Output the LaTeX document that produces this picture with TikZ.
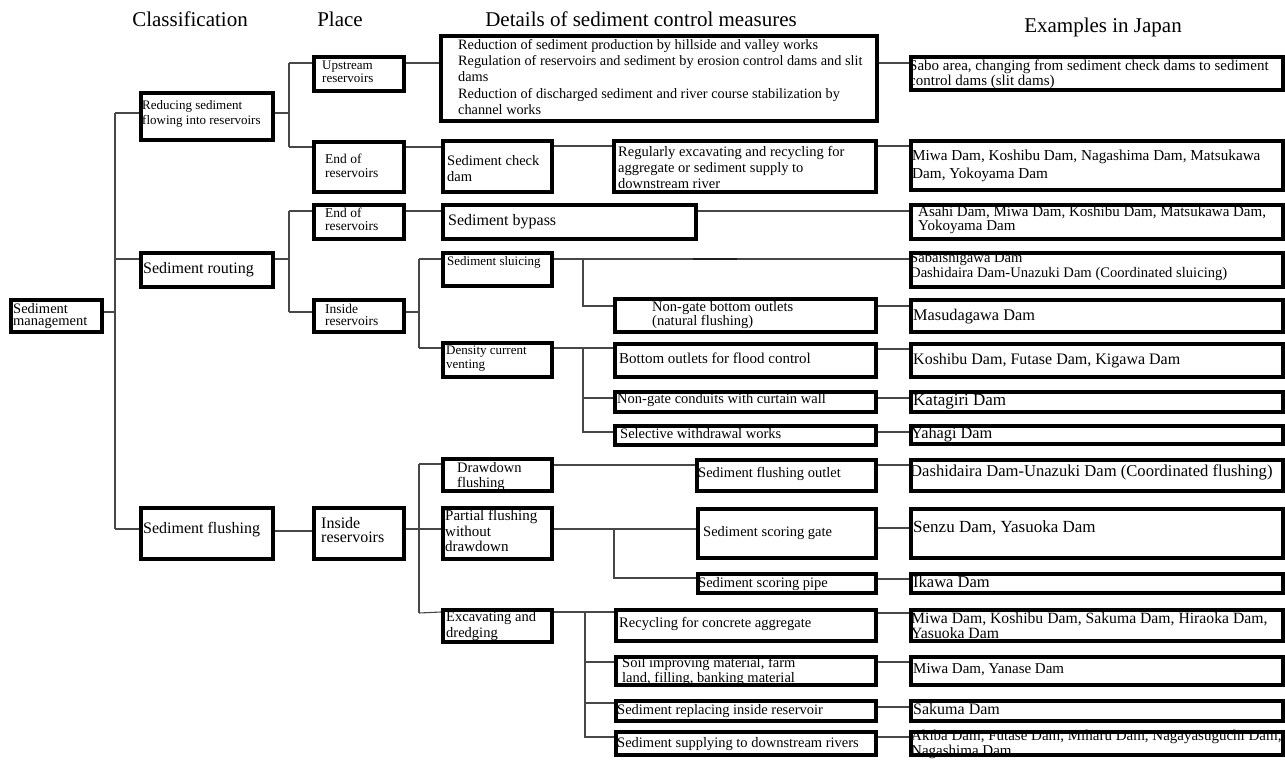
\documentclass[tikz,border=0pt]{standalone}
\usepackage{fontspec}
\setmainfont{Liberation Serif}
\def\bw{3.8}
\tikzset{
  bx/.style={draw=black, line width=\bw pt, inner sep=0pt, fill=white},
  cn/.style={draw=black!72, line width=1.1pt},
  tx/.style={anchor=base west, inner sep=0pt},
  hd/.style={anchor=base, inner sep=0pt, font=\fontsize{21}{24}\selectfont},
}
\newcommand\bx[5]{\node[bx, anchor=north west, minimum width={(#4-#2-\bw)*1pt}, minimum height={(#5-#3-\bw)*1pt}] (#1) at ({#2+\bw/2},{-#3-\bw/2}) {};}
\newcommand\tx[6]{\node[tx, font=\fontsize{#4}{#5}\selectfont] (#1) at (#2,-#3) {\begin{tabular}[t]{@{}l@{}}#6\end{tabular}};}
\begin{document}
\begin{tikzpicture}[x=1pt,y=1pt]
\useasboundingbox (0,0) rectangle (1285,-763);
% headers
\node[hd] (h1) at (190,-26) {Classification};
\node[hd] (h2) at (340,-26) {Place};
\node[hd] (h3) at (641,-26) {Details of sediment control measures};
\node[hd] (h4) at (1103,-32) {Examples in Japan};
% junction coordinates
\coordinate (j1a) at (115,-113); \coordinate (j1b) at (115,-529);
\coordinate (j2a) at (289,-63);  \coordinate (j2b) at (289,-147);
\coordinate (j3a) at (289,-211); \coordinate (j3b) at (289,-312);
\coordinate (j4a) at (419,-259); \coordinate (j4b) at (419,-348);
\coordinate (j5a) at (419,-464); \coordinate (j5b) at (419,-613);
\coordinate (j6a) at (583,-259); \coordinate (j6b) at (583,-306);
\coordinate (j7a) at (583,-348); \coordinate (j7b) at (583,-432);
\coordinate (j8a) at (614,-529); \coordinate (j8b) at (614,-578);
\coordinate (j9a) at (585,-612); \coordinate (j9b) at (585,-737);
\coordinate (d1) at (693,-259); \coordinate (d2) at (737,-259);
% boxes
\bx{mgmt}{7}{296}{102}{332}
\bx{red}{137}{89}{273}{140}
\bx{rout}{137}{249}{273}{287}
\bx{flush}{137}{504}{273}{559}
\bx{up}{310}{53}{404}{91}
\bx{end1}{310}{138}{404}{192}
\bx{end2}{310}{201}{404}{239}
\bx{insR}{310}{296}{404}{332}
\bx{insF}{310}{504}{404}{559}
\bx{big}{437}{32}{877}{121}
\bx{chk}{439}{137}{552}{192}
\bx{reg}{610}{137}{876}{192}
\bx{byp}{439}{201}{696}{239}
\bx{slu}{439}{249}{552}{286}
\bx{ngb}{611}{295}{876}{332}
\bx{dcv}{439}{339}{552}{377}
\bx{bof}{611}{340}{876}{377}
\bx{ngc}{611}{388}{876}{412}
\bx{sel}{611}{422}{876}{445}
\bx{ddf}{439}{455}{552}{491}
\bx{sfo}{693}{456}{876}{491}
\bx{pfw}{439}{504}{552}{559}
\bx{ssg}{694}{505}{876}{558}
\bx{ssp}{694}{570}{876}{593}
\bx{exc}{439}{606}{552}{642}
\bx{rcy}{612}{606}{876}{641}
\bx{soil}{612}{653}{876}{685}
\bx{srep}{612}{697}{876}{721}
\bx{ssup}{612}{728}{876}{755}
\bx{e1}{907}{53}{1283}{90}
\bx{e2}{907}{137}{1283}{190}
\bx{e3}{907}{201}{1283}{239}
\bx{e4}{907}{249}{1283}{287}
\bx{e5}{907}{296}{1283}{332}
\bx{e6}{907}{340}{1283}{377}
\bx{e7}{907}{388}{1283}{412}
\bx{e8}{907}{422}{1283}{444}
\bx{e9}{907}{456}{1283}{491}
\bx{e10}{907}{505}{1283}{558}
\bx{e11}{907}{570}{1283}{593}
\bx{e12}{907}{606}{1283}{641}
\bx{e13}{907}{653}{1283}{685}
\bx{e14}{907}{697}{1283}{721}
\bx{e15}{907}{728}{1283}{755}
% connectors
\draw[cn] (j1a) -- (j1b);
\draw[cn] (mgmt.east |- 0,-312) -- (j1a |- 0,-312);
\draw[cn] (j1a) -- (red.west |- j1a);
\draw[cn] (j1a |- 0,-259) -- (rout.west |- 0,-259);
\draw[cn] (j1b) -- (flush.west |- j1b);
\draw[cn] (j2a) -- (j2b);
\draw[cn] (red.east |- 0,-113) -- (j2a |- 0,-113);
\draw[cn] (j2a) -- (up.west |- j2a);
\draw[cn] (j2b) -- (end1.west |- j2b);
\draw[cn] (j3a) -- (j3b);
\draw[cn] (rout.east |- 0,-259) -- (j3a |- 0,-259);
\draw[cn] (j3a) -- (end2.west |- j3a);
\draw[cn] (j3b) -- (insR.west |- j3b);
\draw[cn] (flush.east |- 0,-531) -- (insF.west |- 0,-531);
\draw[cn] (j4a) -- (j4b);
\draw[cn] (insR.east |- 0,-312) -- (j4a |- 0,-312);
\draw[cn] (j4a) -- (slu.west |- j4a);
\draw[cn] (j4b) -- (dcv.west |- j4b);
\draw[cn] (j5a) -- (j5b);
\draw[cn] (insF.east |- 0,-529) -- (pfw.west |- 0,-529);
\draw[cn] (j5a) -- (ddf.west |- j5a);
\draw[cn] (j5b) -- (exc.west |- 0,-612);
\draw[cn] (up.east |- 0,-63) -- (big.west |- 0,-63);
\draw[cn] (big.east |- 0,-63) -- (e1.west |- 0,-63);
\draw[cn] (end1.east |- 0,-147) -- (chk.west |- 0,-147);
\draw[cn] (chk.east |- 0,-146) -- (reg.west |- 0,-146);
\draw[cn] (reg.east |- 0,-146) -- (e2.west |- 0,-146);
\draw[cn] (end2.east |- 0,-211) -- (byp.west |- 0,-211);
\draw[cn] (byp.east |- 0,-211) -- (e3.west |- 0,-211);
\draw[cn] (slu.east |- 0,-259) -- (e4.west |- 0,-259);
\draw[draw=black!88, line width=2.2pt] (d1) -- (d2);
\draw[cn] (j6a) -- (j6b) -- (ngb.west |- j6b);
\draw[cn] (ngb.east |- 0,-306) -- (e5.west |- 0,-306);
\draw[cn] (dcv.east |- 0,-348) -- (bof.west |- 0,-348);
\draw[cn] (j7a) -- (j7b) -- (sel.west |- j7b);
\draw[cn] (j7a |- 0,-398) -- (ngc.west |- 0,-398);
\draw[cn] (bof.east |- 0,-349) -- (e6.west |- 0,-349);
\draw[cn] (ngc.east |- 0,-398) -- (e7.west |- 0,-398);
\draw[cn] (sel.east |- 0,-432) -- (e8.west |- 0,-432);
\draw[cn] (ddf.east |- 0,-465) -- (sfo.west |- 0,-465);
\draw[cn] (sfo.east |- 0,-465) -- (e9.west |- 0,-465);
\draw[cn] (pfw.east |- j8a) -- (ssg.west |- j8a);
\draw[cn] (j8a) -- (j8b) -- (ssp.west |- j8b);
\draw[cn] (ssg.east |- 0,-528) -- (e10.west |- 0,-528);
\draw[cn] (ssp.east |- 0,-579) -- (e11.west |- 0,-579);
\draw[cn] (exc.east |- j9a) -- (rcy.west |- j9a);
\draw[cn] (j9a) -- (j9b) -- (ssup.west |- j9b);
\draw[cn] (j9a |- 0,-662) -- (soil.west |- 0,-662);
\draw[cn] (j9a |- 0,-703) -- (srep.west |- 0,-703);
\draw[cn] (rcy.east |- 0,-613) -- (e12.west |- 0,-613);
\draw[cn] (soil.east |- 0,-662) -- (e13.west |- 0,-662);
\draw[cn] (srep.east |- 0,-707) -- (e14.west |- 0,-707);
\draw[cn] (ssup.east |- 0,-737) -- (e15.west |- 0,-737);
% texts
\tx{mgmt-t}{13}{313}{14.5}{12.5}{Sediment\\management}
\tx{red-t}{142}{109.5}{13}{15}{Reducing sediment\\flowing into reservoirs}
\tx{rout-t}{143}{273}{16}{18}{Sediment routing}
\tx{flush-t}{143}{533}{16}{18}{Sediment flushing}
\tx{up-t}{322}{69.5}{13}{12.5}{Upstream\\reservoirs}
\tx{end1-t}{325}{163.5}{13.5}{13.5}{End of\\reservoirs}
\tx{end2-t}{325}{217.5}{13.5}{13}{End of\\reservoirs}
\tx{insR-t}{325}{313}{13.5}{12.5}{Inside\\reservoirs}
\tx{insF-t}{321}{528}{16}{12.5}{Inside\\reservoirs}
\tx{big-t}{458}{49.5}{14.3}{16.2}{Reduction of sediment production by hillside and valley works\\Regulation of reservoirs and sediment by erosion control dams and slit\\dams\\Reduction of discharged sediment and river course stabilization by\\channel works}
\tx{chk-t}{447}{165}{14.5}{16.5}{Sediment check\\dam}
\tx{reg-t}{618}{156}{14.5}{16}{Regularly excavating and recycling for\\aggregate or sediment supply to\\downstream river}
\tx{byp-t}{448}{225}{16}{18}{Sediment bypass}
\tx{slu-t}{447}{265}{13}{15}{Sediment sluicing}
\tx{ngb-t}{652}{311}{14.5}{14}{Non-gate bottom outlets\\(natural flushing)}
\tx{dcv-t}{446}{354}{13}{14.5}{Density current\\venting}
\tx{bof-t}{619}{363}{15}{17}{Bottom outlets for flood control}
\tx{ngc-t}{617}{403.5}{14.5}{16}{Non-gate conduits with curtain wall}
\tx{sel-t}{620}{438}{14.5}{16}{Selective withdrawal works}
\tx{ddf-t}{457}{472}{14.5}{15.5}{Drawdown\\flushing}
\tx{sfo-t}{698}{477}{14.5}{16}{Sediment flushing outlet}
\tx{pfw-t}{445}{520.5}{15}{15.5}{Partial flushing\\without\\drawdown}
\tx{ssg-t}{703}{536.5}{14.5}{16}{Sediment scoring gate}
\tx{ssp-t}{698}{587.5}{14.5}{16}{Sediment scoring pipe}
\tx{exc-t}{446}{621.5}{14.5}{15.5}{Excavating and\\dredging}
\tx{rcy-t}{619}{627.5}{14.5}{16}{Recycling for concrete aggregate}
\tx{soil-t}{622}{667.5}{14.5}{14.5}{Soil improving material, farm\\land, filling, banking material}
\tx{srep-t}{617}{714.5}{14.5}{16}{Sediment replacing inside reservoir}
\tx{ssup-t}{617}{747}{14.5}{16}{Sediment supplying to downstream rivers}
\tx{e1-t}{909}{70.5}{15}{14.5}{Sabo area, changing from sediment check dams to sediment\\control dams (slit dams)}
\tx{e2-t}{912}{160.5}{15.2}{17.5}{Miwa Dam, Koshibu Dam, Nagashima Dam, Matsukawa\\Dam, Yokoyama Dam}
\tx{e3-t}{918}{216}{15}{14.5}{Asahi Dam, Miwa Dam, Koshibu Dam, Matsukawa Dam,\\Yokoyama Dam}
\tx{e4-t}{910}{262.5}{14.6}{14.5}{Sabaishigawa Dam\\Dashidaira Dam-Unazuki Dam (Coordinated sluicing)}
\tx{e5-t}{913}{320.5}{16.3}{18}{Masudagawa Dam}
\tx{e6-t}{913}{364.5}{16}{18}{Koshibu Dam, Futase Dam, Kigawa Dam}
\tx{e7-t}{913}{405}{17}{18}{Katagiri Dam}
\tx{e8-t}{911}{438.5}{16.3}{18}{Yahagi Dam}
\tx{e9-t}{910}{476}{16.6}{18}{Dashidaira Dam-Unazuki Dam (Coordinated flushing)}
\tx{e10-t}{913}{532.5}{17}{18}{Senzu Dam, Yasuoka Dam}
\tx{e11-t}{913}{587}{16.5}{18}{Ikawa Dam}
\tx{e12-t}{911}{623.5}{15.7}{14.5}{Miwa Dam, Koshibu Dam, Sakuma Dam, Hiraoka Dam,\\Yasuoka Dam}
\tx{e13-t}{913}{673.5}{15}{18}{Miwa Dam, Yanase Dam}
\tx{e14-t}{913}{714}{16}{18}{Sakuma Dam}
\tx{e15-t}{911}{740.5}{15}{14}{Akiba Dam, Futase Dam, Miharu Dam, Nagayasuguchi Dam,\\Nagashima Dam}
\end{tikzpicture}
\end{document}
